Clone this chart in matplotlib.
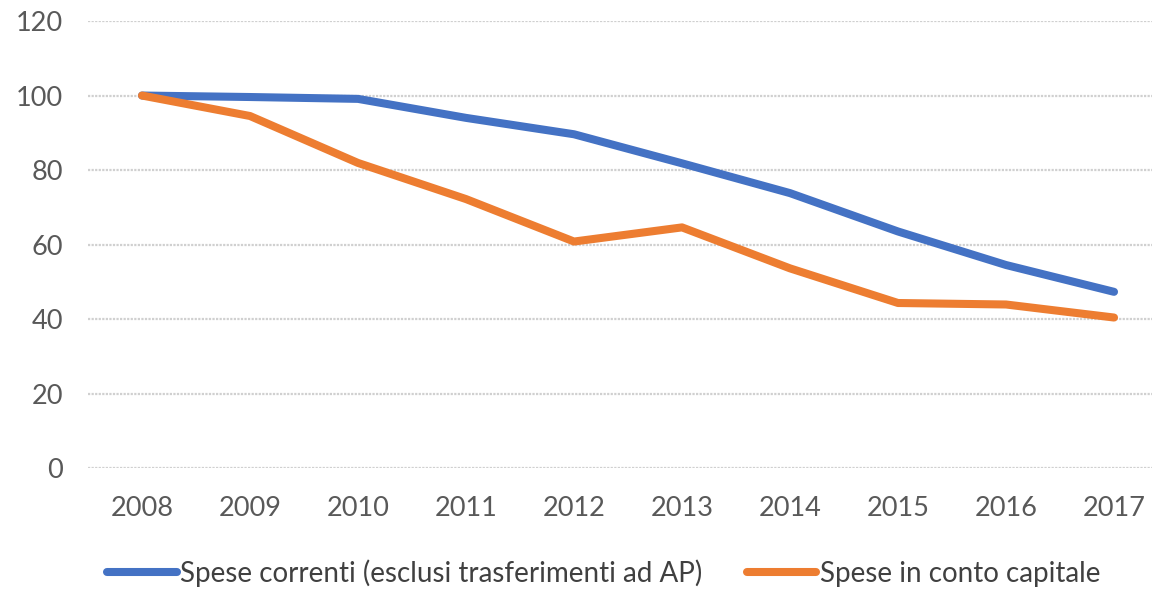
import numpy as np
import matplotlib.pyplot as plt

plt.rcParams['font.family'] = ['Lato', 'DejaVu Sans']

# Dati (indice 2008 = 100)
anni = ['2008', '2009', '2010', '2011', '2012', '2013', '2014', '2015', '2016', '2017']
spese_correnti = [100, 99.6, 99.1, 94.0, 89.6, 81.8, 73.8, 63.5, 54.5, 47.3]
spese_capitale = [100, 94.5, 81.9, 72.2, 60.8, 64.6, 53.6, 44.3, 43.9, 40.4]

fig = plt.figure(figsize=(11.52, 5.89), dpi=100)
ax = fig.add_axes([0.0764, 0.2054, 0.9375, 0.7589])

x = np.arange(len(anni))
ax.plot(x, spese_correnti, color='#4472C4', linewidth=5.8, solid_capstyle='round',
        solid_joinstyle='round', label='Spese correnti (esclusi trasferimenti ad AP)')
ax.plot(x, spese_capitale, color='#ED7D31', linewidth=5.8, solid_capstyle='round',
        solid_joinstyle='round', label='Spese in conto capitale')

ax.set_xlim(-0.5, len(anni) - 0.5)
ax.set_ylim(0, 120)
ax.set_yticks(np.arange(0, 121, 20))
ax.set_xticks(x)
ax.set_xticklabels(anni)

for s in ax.spines.values():
    s.set_visible(False)
ax.tick_params(axis='both', length=0, labelsize=19.5, colors='#595959')
ax.tick_params(axis='x', pad=20)
ax.tick_params(axis='y', pad=18)
ax.yaxis.grid(True, color='#d0d0d0', linewidth=1.6, linestyle=(0, (1, 0.6)))
ax.set_axisbelow(True)

leg = fig.legend(loc='center', bbox_to_anchor=(0.524, 0.027), ncol=2, frameon=False,
                 fontsize=20, handlelength=2.5, handletextpad=0.12, columnspacing=1.6)
for t in leg.get_texts():
    t.set_color('#404040')

fig.savefig('out.png', dpi=100)
